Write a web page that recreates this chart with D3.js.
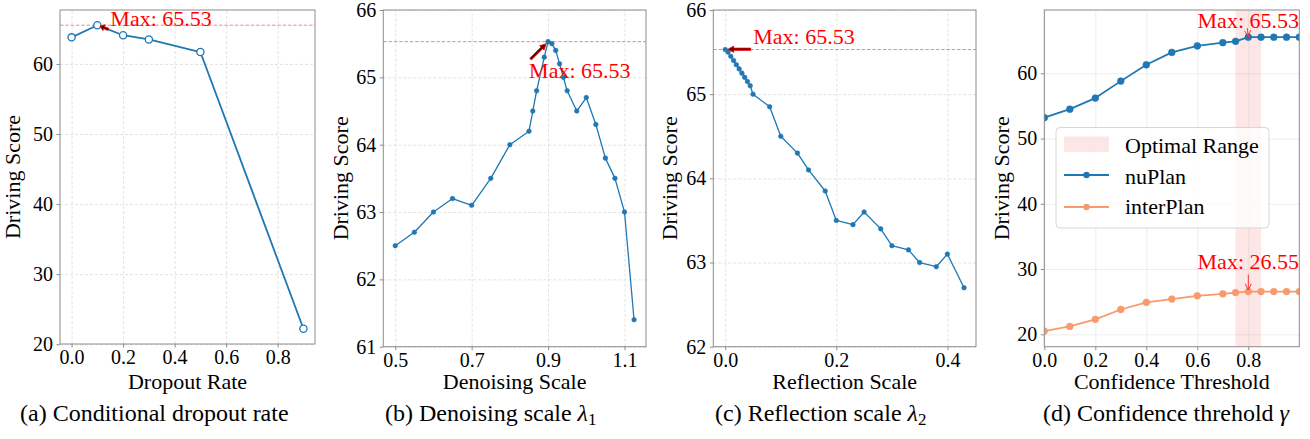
<!DOCTYPE html>
<html>
<head>
<meta charset="utf-8">
<script src="https://cdn.jsdelivr.net/npm/d3@7"></script>
<style>
  html, body { margin: 0; padding: 0; background: #fff; }
  svg { display: block; }
</style>
</head>
<body>
<svg id="chart" width="1310" height="439"></svg>
<script>
// ---------------- DATA ----------------
const dropoutX = [0.0, 0.1, 0.2, 0.3, 0.5, 0.9];
const dropoutY = [63.8, 65.53, 64.1, 63.5, 61.7, 22.2];

const denoiseX = [0.5, 0.55, 0.6, 0.65, 0.7, 0.75, 0.8, 0.85, 0.86, 0.87, 0.89, 0.9, 0.91, 0.92, 0.93, 0.94, 0.95, 0.975, 1.0, 1.025, 1.05, 1.075, 1.1, 1.125];
const denoiseY = [62.5, 62.7, 63.0, 63.2, 63.1, 63.5, 64.0, 64.2, 64.5, 64.8, 65.3, 65.53, 65.5, 65.4, 65.2, 65.0, 64.8, 64.5, 64.7, 64.3, 63.8, 63.5, 63.0, 61.4];

const reflectX = [0.0, 0.005, 0.01, 0.015, 0.02, 0.025, 0.03, 0.035, 0.04, 0.045, 0.05, 0.08, 0.1, 0.13, 0.15, 0.18, 0.2, 0.23, 0.25, 0.28, 0.3, 0.33, 0.35, 0.38, 0.4, 0.43];
const reflectY = [65.53, 65.5, 65.45, 65.4, 65.35, 65.3, 65.25, 65.2, 65.15, 65.1, 65.0, 64.85, 64.5, 64.3, 64.1, 63.85, 63.5, 63.45, 63.6, 63.4, 63.2, 63.15, 63.0, 62.95, 63.1, 62.7];

const confX = [0.0, 0.1, 0.2, 0.3, 0.4, 0.5, 0.6, 0.7, 0.75, 0.8, 0.85, 0.9, 0.95, 1.0];
const nuplanY = [53.2, 54.5, 56.2, 58.8, 61.3, 63.2, 64.2, 64.7, 64.9, 65.53, 65.53, 65.53, 65.53, 65.53];
const interplanY = [20.5, 21.2, 22.3, 23.8, 24.9, 25.4, 25.9, 26.2, 26.4, 26.55, 26.55, 26.55, 26.55, 26.55];
const optimalRange = [0.75, 0.85];

const ticksA_x = [0.0, 0.2, 0.4, 0.6, 0.8];
const ticksA_y = [20, 30, 40, 50, 60];
const ticksB_x = [0.5, 0.7, 0.9, 1.1];
const ticksB_y = [61, 62, 63, 64, 65, 66];
const ticksC_x = [0.0, 0.2, 0.4];
const ticksC_y = [62, 63, 64, 65, 66];
const ticksD_x = [0.0, 0.2, 0.4, 0.6, 0.8];
const ticksD_y = [20, 30, 40, 50, 60];

const xLabels = ["Dropout Rate", "Denoising Scale", "Reflection Scale", "Confidence Threshold"];
const yLabel = "Driving Score";
const legendLabels = ["Optimal Range", "nuPlan", "interPlan"];

// ---------------- STYLE ----------------
const FONT = "'Liberation Serif','Times New Roman',Times,serif";
const BLUE = "#1f77b4";
const ORANGE = "#f89a6b";
const svg = d3.select("#chart");

function makePanel(o) {
  const g = svg.append("g");
  const x = d3.scaleLinear().domain(o.xDomain).range([o.left, o.right]);
  const y = d3.scaleLinear().domain(o.yDomain).range([o.bottom, o.top]);
  const w = o.right - o.left, h = o.bottom - o.top;
  const clipId = "clip" + o.id;
  svg.append("clipPath").attr("id", clipId).append("rect")
    .attr("x", o.left).attr("y", o.top).attr("width", w).attr("height", h);

  const gx = g.append("g").attr("transform", `translate(0,${o.bottom})`)
    .call(d3.axisBottom(x).tickValues(o.xTicks).tickSize(-h).tickFormat(""));
  const gy = g.append("g").attr("transform", `translate(${o.left},0)`)
    .call(d3.axisLeft(y).tickValues(o.yTicks).tickSize(-w).tickFormat(""));
  [gx, gy].forEach(a => {
    a.select(".domain").remove();
    a.selectAll("line").attr("stroke", o.gridColor).attr("stroke-width", 0.8)
      .attr("stroke-dasharray", o.gridDash);
  });
  return { g, x, y, clipId, o };
}

function finishPanel(p) {
  const { g, x, y, o } = p;
  g.append("rect").attr("x", o.left).attr("y", o.top)
    .attr("width", o.right - o.left).attr("height", o.bottom - o.top)
    .attr("fill", "none").attr("stroke", "#8c8c8c").attr("stroke-width", 1);
  const ax = g.append("g").attr("transform", `translate(0,${o.bottom})`)
    .call(d3.axisBottom(x).tickValues(o.xTicks).tickSize(3.5).tickPadding(2.5).tickFormat(d3.format(".1f")));
  const ay = g.append("g").attr("transform", `translate(${o.left},0)`)
    .call(d3.axisLeft(y).tickValues(o.yTicks).tickSize(3.5).tickPadding(3.5).tickFormat(d3.format("d")));
  [ax, ay].forEach(a => {
    a.select(".domain").remove();
    a.selectAll("line").attr("stroke", "#8c8c8c");
    a.selectAll("text").attr("font-family", FONT).attr("font-size", 20).attr("fill", "#000");
  });
  g.append("text").attr("x", (o.left + o.right) / 2).attr("y", 389)
    .attr("text-anchor", "middle").attr("font-family", FONT).attr("font-size", 22)
    .text(o.xLabel);
  g.append("text").attr("transform", `translate(${o.yLabelX},${(o.top + o.bottom) / 2}) rotate(-90)`)
    .attr("text-anchor", "middle").attr("font-family", FONT).attr("font-size", 22)
    .text(yLabel);
}

function drawLine(p, xs, ys, color, lw, r, openMarker) {
  const data = xs.map((d, i) => [d, ys[i]]);
  const gg = p.g.append("g").attr("clip-path", `url(#${p.clipId})`);
  gg.append("path").datum(data)
    .attr("d", d3.line().x(d => p.x(d[0])).y(d => p.y(d[1])))
    .attr("fill", "none").attr("stroke", color).attr("stroke-width", lw)
    .attr("stroke-linejoin", "round");
  gg.selectAll("circle.m").data(data).join("circle")
    .attr("cx", d => p.x(d[0])).attr("cy", d => p.y(d[1])).attr("r", r)
    .attr("fill", openMarker ? "#fff" : color)
    .attr("stroke", color).attr("stroke-width", openMarker ? 1.3 : 0.6);
}

function maxLine(p, v) {
  p.g.append("line").attr("x1", p.o.left).attr("x2", p.o.right)
    .attr("y1", p.y(v)).attr("y2", p.y(v))
    .attr("stroke", "#ff0000").attr("stroke-opacity", 0.55).attr("stroke-width", 0.9)
    .attr("stroke-dasharray", "3.5,1.8");
}

function fancyArrow(g, x1, y1, x2, y2) {
  const dx = x2 - x1, dy = y2 - y1, L = Math.hypot(dx, dy);
  const ux = dx / L, uy = dy / L, nx = -uy, ny = ux;
  const sw = 1.2, hw = 3.2, hl = Math.min(6, L * 0.5);
  const bx = x2 - ux * hl, by = y2 - uy * hl;
  const pts = [
    [x1 + nx * sw, y1 + ny * sw], [bx + nx * sw, by + ny * sw], [bx + nx * hw, by + ny * hw],
    [x2, y2], [bx - nx * hw, by - ny * hw], [bx - nx * sw, by - ny * sw], [x1 - nx * sw, y1 - ny * sw]
  ];
  g.append("polygon").attr("points", pts.map(d => d.join(",")).join(" "))
    .attr("fill", "#6e0000").attr("stroke", "#ff0000").attr("stroke-width", 0.7)
    .attr("stroke-linejoin", "miter");
}

function thinArrow(g, x1, y1, x2, y2) {
  g.append("line").attr("x1", x1).attr("y1", y1).attr("x2", x2).attr("y2", y2)
    .attr("stroke", "#ff3030").attr("stroke-width", 1);
  const a = Math.atan2(y2 - y1, x2 - x1), hl = 7, spread = 0.45;
  const p1 = [x2 - hl * Math.cos(a - spread), y2 - hl * Math.sin(a - spread)];
  const p2 = [x2 - hl * Math.cos(a + spread), y2 - hl * Math.sin(a + spread)];
  g.append("path").attr("d", `M${p1}L${x2},${y2}L${p2}`)
    .attr("fill", "none").attr("stroke", "#ff3030").attr("stroke-width", 1);
}

function maxText(g, x, y, str, anchor) {
  g.append("text").attr("x", x).attr("y", y).attr("text-anchor", anchor || "start")
    .attr("font-family", FONT).attr("font-size", 22).attr("fill", "#ff0000").text(str);
}

function argMax(arr) { return arr.indexOf(d3.max(arr)); }

// ---------------- PANEL A ----------------
{
  const p = makePanel({ id: "a", left: 60, right: 315, top: 10, bottom: 344,
    xDomain: [-0.045, 0.945], yDomain: [20.03, 67.70], xTicks: ticksA_x, yTicks: ticksA_y,
    xLabel: xLabels[0], yLabelX: 20, gridColor: "#dcdcdc", gridDash: "3,2" });
  const i = argMax(dropoutY), mv = dropoutY[i];
  maxLine(p, mv);
  drawLine(p, dropoutX, dropoutY, BLUE, 1.8, 3.6, true);
  finishPanel(p);
  const px = p.x(dropoutX[i]), py = p.y(mv);
  fancyArrow(p.g, px + 11, py + 4.2, px + 2.5, py + 0.8);
  maxText(p.g, px + 13, py + 1, "Max: " + mv.toFixed(2));
}

// ---------------- PANEL B ----------------
{
  const p = makePanel({ id: "b", left: 383.3, right: 646, top: 10, bottom: 346.7,
    xDomain: [0.46875, 1.15625], yDomain: [61, 66], xTicks: ticksB_x, yTicks: ticksB_y,
    xLabel: xLabels[1], yLabelX: 347.5, gridColor: "#dcdcdc", gridDash: "3,2" });
  const i = argMax(denoiseY), mv = denoiseY[i];
  maxLine(p, mv);
  drawLine(p, denoiseX, denoiseY, BLUE, 1.3, 2.3, false);
  finishPanel(p);
  const px = p.x(denoiseX[i]), py = p.y(mv);
  fancyArrow(p.g, px - 17.5, py + 17.5, px - 2, py + 2);
  maxText(p.g, px - 19, py + 36, "Max: " + mv.toFixed(2));
}

// ---------------- PANEL C ----------------
{
  const p = makePanel({ id: "c", left: 713.3, right: 976, top: 10, bottom: 346.7,
    xDomain: [-0.0215, 0.4515], yDomain: [62, 66], xTicks: ticksC_x, yTicks: ticksC_y,
    xLabel: xLabels[2], yLabelX: 677, gridColor: "#dcdcdc", gridDash: "3,2" });
  const i = argMax(reflectY), mv = reflectY[i];
  maxLine(p, mv);
  drawLine(p, reflectX, reflectY, BLUE, 1.3, 2.3, false);
  finishPanel(p);
  const px = p.x(reflectX[i]), py = p.y(mv);
  fancyArrow(p.g, px + 25.5, py - 0.3, px + 2.5, py - 0.3);
  maxText(p.g, px + 28, py - 5.5, "Max: " + mv.toFixed(2));
}

// ---------------- PANEL D ----------------
{
  const p = makePanel({ id: "d", left: 1044.3, right: 1299.3, top: 10, bottom: 346.7,
    xDomain: [0, 1.0], yDomain: [18.1, 69.7], xTicks: ticksD_x, yTicks: ticksD_y,
    xLabel: xLabels[3], yLabelX: 1008.5, gridColor: "#e8e8e8", gridDash: null });
  p.g.append("rect").attr("x", p.x(optimalRange[0])).attr("y", p.o.top)
    .attr("width", p.x(optimalRange[1]) - p.x(optimalRange[0])).attr("height", p.o.bottom - p.o.top)
    .attr("fill", "#f08080").attr("fill-opacity", 0.2);
  drawLine(p, confX, nuplanY, BLUE, 1.8, 3.4, false);
  drawLine(p, confX, interplanY, ORANGE, 1.8, 3.4, false);
  finishPanel(p);
  const i1 = argMax(nuplanY), i2 = argMax(interplanY);
  const x1 = p.x(confX[i1]), y1 = p.y(nuplanY[i1]);
  const x2 = p.x(confX[i2]), y2 = p.y(interplanY[i2]);
  thinArrow(p.g, x1 - 1, y1 - 9, x1, y1 - 0.5);
  maxText(p.g, x1, y1 - 9.5, "Max: " + nuplanY[i1].toFixed(2), "middle");
  thinArrow(p.g, x2, y2 - 17, x2, y2 - 1.5);
  maxText(p.g, x2, y2 - 22.5, "Max: " + interplanY[i2].toFixed(2), "middle");

  const lg = p.g.append("g");
  lg.append("rect").attr("x", 1056).attr("y", 127.5).attr("width", 213).attr("height", 100.5)
    .attr("rx", 4).attr("fill", "#fff").attr("fill-opacity", 0.8)
    .attr("stroke", "#d6d6d6").attr("stroke-width", 1);
  lg.append("rect").attr("x", 1064).attr("y", 136.5).attr("width", 45).attr("height", 15.5)
    .attr("fill", "#f08080").attr("fill-opacity", 0.2);
  [[BLUE, 175], [ORANGE, 207]].forEach(([c, yy]) => {
    lg.append("line").attr("x1", 1064).attr("x2", 1109).attr("y1", yy).attr("y2", yy)
      .attr("stroke", c).attr("stroke-width", 1.8);
    lg.append("circle").attr("cx", 1086.5).attr("cy", yy).attr("r", 3.2).attr("fill", c);
  });
  [[legendLabels[0], 152.5], [legendLabels[1], 183.5], [legendLabels[2], 214]].forEach(([t, yy]) => {
    lg.append("text").attr("x", 1125).attr("y", yy).attr("font-family", FONT)
      .attr("font-size", 22).attr("fill", "#000").text(t);
  });
}

// ---------------- CAPTIONS ----------------
const captions = [
  { x: 20, parts: [["(a) Conditional dropout rate", ""]] },
  { x: 385, parts: [["(b) Denoising scale ", ""], ["λ", "i"], ["1", "sub"]] },
  { x: 715, parts: [["(c) Reflection scale ", ""], ["λ", "i"], ["2", "sub"]] },
  { x: 1043, parts: [["(d) Confidence threhold ", ""], ["γ", "i"]] }
];
captions.forEach(c => {
  const t = svg.append("text").attr("x", c.x).attr("y", 421)
    .attr("font-family", FONT).attr("font-size", 24).attr("fill", "#000");
  c.parts.forEach(([s, k]) => {
    const ts = t.append("tspan").text(s);
    if (k === "i") ts.attr("font-style", "italic");
    if (k === "sub") ts.attr("font-size", 17).attr("dy", 4);
  });
});
</script>
</body>
</html>
